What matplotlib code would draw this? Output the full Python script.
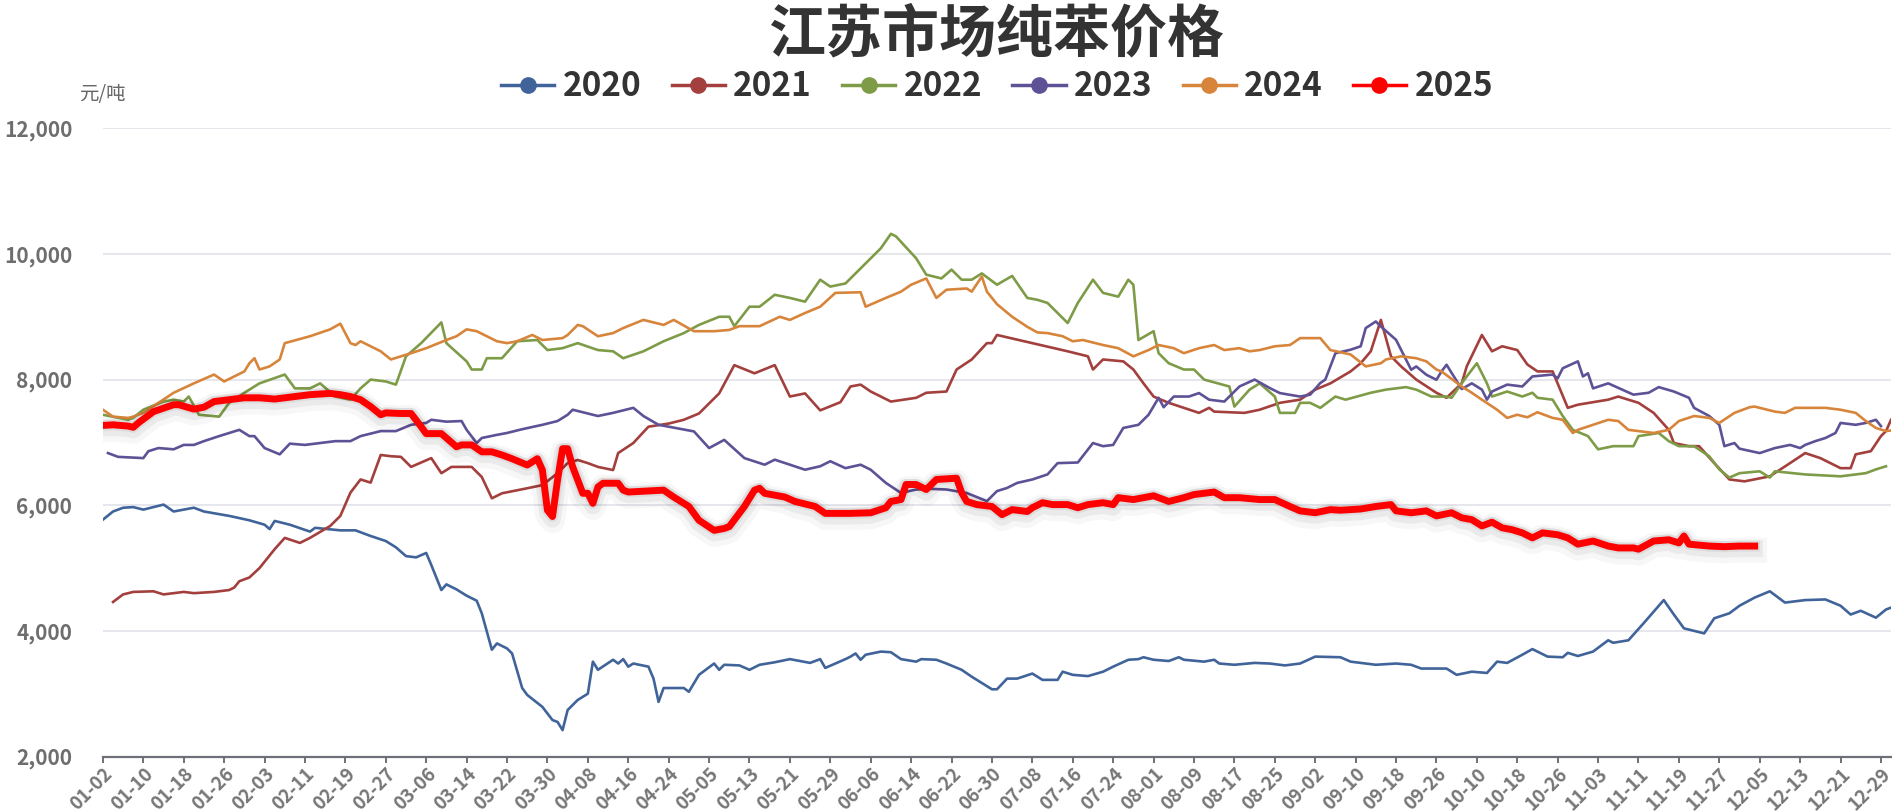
import matplotlib
matplotlib.use("Agg")
import matplotlib.pyplot as plt
from matplotlib.lines import Line2D
import matplotlib.patheffects as pe
from matplotlib.ticker import FuncFormatter
import pandas as pd

plt.rcParams['font.family'] = ['Noto Sans CJK SC', 'DejaVu Sans']

# ---------------- data ----------------
title = "江苏市场纯苯价格"
unit_label = "元/吨"
years = ["2020", "2021", "2022", "2023", "2024", "2025"]

# category axis: month-day labels (holiday dates absent from the axis)
holidays = ["04-04", "05-01", "05-02", "05-03",
            "10-01", "10-02", "10-03", "10-04", "10-05", "10-06"]
categories = [d.strftime("%m-%d") for d in pd.date_range("2024-01-02", "2024-12-31")
              if d.strftime("%m-%d") not in holidays]
tick_labels = categories[::8]

dates_2020 = ["01-02","01-04","01-06","01-08","01-10","01-12","01-14","01-16","01-20","01-22",
              "01-27","01-31","02-03","02-04","02-05","02-08","02-12","02-13","02-18","02-21",
              "02-24","02-27","02-29","03-02","03-04","03-06","03-07","03-09","03-10","03-12",
              "03-14","03-16","03-17","03-19","03-20","03-22","03-23","03-25","03-26","03-29",
              "03-31","04-01","04-02","04-03","04-06","04-08","04-09","04-10","04-13","04-14",
              "04-15","04-16","04-17","04-20","04-21","04-22","04-23","04-27","04-28","04-30",
              "05-06","05-07","05-08","05-11","05-13","05-15","05-18","05-21","05-25","05-27",
              "05-28","06-01","06-02","06-03","06-04","06-05","06-08","06-10","06-12","06-15",
              "06-16","06-19","06-21","06-24","06-26","06-30","07-01","07-03","07-05","07-08",
              "07-10","07-13","07-14","07-16","07-19","07-22","07-24","07-27","07-29","07-30",
              "08-01","08-04","08-06","08-07","08-11","08-13","08-14","08-17","08-21","08-24",
              "08-27","08-30","09-02","09-07","09-09","09-14","09-18","09-21","09-23","09-28",
              "09-30","10-09","10-12","10-14","10-16","10-19","10-21","10-24","10-27","10-28",
              "10-30","11-02","11-05","11-06","11-09","11-12","11-16","11-18","11-20","11-24",
              "11-26","11-29","12-01","12-04","12-07","12-10","12-14","12-18","12-21","12-23",
              "12-25","12-28","12-30","12-31"]
values_2020 = [5770,5900,5960,5970,5930,5970,6010,5900,5960,5900,
               5830,5760,5690,5620,5750,5690,5580,5640,5600,5600,
               5510,5430,5330,5190,5170,5240,5050,4650,4740,4660,
               4560,4480,4280,3700,3800,3720,3640,3090,2980,2790,
               2580,2550,2420,2740,2900,3000,3510,3380,3540,3480,
               3550,3430,3480,3430,3240,2870,3090,3090,3030,3300,
               3480,3380,3460,3450,3380,3460,3500,3550,3490,3550,
               3410,3550,3590,3640,3540,3620,3670,3660,3550,3510,
               3550,3540,3480,3380,3270,3070,3070,3240,3240,3320,
               3220,3220,3350,3300,3280,3350,3430,3540,3550,3580,
               3540,3520,3580,3540,3510,3540,3480,3460,3490,3480,
               3450,3480,3590,3580,3510,3460,3480,3460,3400,3400,
               3300,3350,3330,3510,3490,3620,3710,3590,3580,3650,
               3600,3670,3850,3810,3850,4120,4490,4260,4040,3960,
               4200,4280,4400,4530,4630,4450,4490,4500,4400,4260,
               4320,4210,4340,4370]

dates_2021 = ["01-04","01-06","01-08","01-12","01-14","01-18","01-20","01-24","01-27","01-28",
              "01-29","01-31","02-02","02-05","02-07","02-10","02-12","02-16","02-18","02-20",
              "02-22","02-24","02-26","02-28","03-01","03-03","03-07","03-09","03-11","03-15",
              "03-17","03-19","03-21","03-26","03-29","04-01","04-03","04-06","04-08","04-10",
              "04-13","04-14","04-17","04-20","04-24","04-27","04-30","05-07","05-10","05-14",
              "05-18","05-21","05-24","05-27","05-31","06-02","06-04","06-06","06-10","06-15",
              "06-17","06-21","06-23","06-26","06-29","06-30","07-01","07-08","07-15","07-19",
              "07-20","07-22","07-26","07-28","07-30","08-01","08-04","08-07","08-10","08-12",
              "08-13","08-19","08-22","08-26","08-30","09-02","09-05","09-09","09-11","09-13",
              "09-15","09-17","09-19","09-22","09-26","09-28","10-07","10-08","10-11","10-13",
              "10-15","10-18","10-20","10-22","10-25","10-28","10-30","11-05","11-07","11-11",
              "11-14","11-17","11-18","11-21","11-23","11-26","11-29","12-02","12-07","12-11",
              "12-14","12-17","12-21","12-23","12-24","12-27","12-29","12-30","12-31"]
values_2021 = [4460,4580,4620,4630,4580,4620,4600,4620,4650,4690,
               4790,4850,5000,5300,5480,5400,5480,5670,5830,6200,
               6410,6360,6800,6780,6770,6610,6750,6510,6610,6610,
               6450,6110,6190,6270,6320,6510,6670,6720,6670,6610,
               6560,6830,6990,7250,7300,7360,7460,7780,8230,8100,
               8230,7730,7780,7510,7640,7890,7920,7810,7650,7710,
               7790,7810,8160,8320,8580,8580,8710,8580,8450,8370,
               8160,8320,8290,8160,7940,7730,7630,7550,7470,7550,
               7490,7470,7520,7630,7680,7840,7940,8130,8260,8450,
               8950,8370,8210,8000,7790,7710,7940,8210,8710,8450,
               8530,8470,8240,8130,8130,7550,7600,7680,7730,7630,
               7470,7200,6990,6940,6940,6670,6410,6380,6460,6670,
               6830,6750,6590,6590,6810,6860,7100,7180,7360]

dates_2022 = ["01-02","01-07","01-08","01-10","01-14","01-16","01-18","01-19","01-21","01-25",
              "01-27","01-30","02-02","02-07","02-09","02-12","02-14","02-17","02-20","02-22",
              "02-24","02-27","02-29","03-02","03-05","03-09","03-10","03-14","03-15","03-17",
              "03-18","03-21","03-24","03-28","03-30","04-02","04-06","04-10","04-13","04-15",
              "04-19","04-23","04-27","04-30","05-07","05-09","05-10","05-13","05-15","05-18",
              "05-21","05-24","05-27","05-29","06-01","06-05","06-08","06-10","06-11","06-15",
              "06-17","06-20","06-22","06-24","06-26","06-28","07-01","07-04","07-07","07-09",
              "07-11","07-13","07-15","07-17","07-20","07-22","07-25","07-27","07-28","07-29",
              "08-01","08-02","08-04","08-07","08-09","08-11","08-16","08-17","08-20","08-22",
              "08-25","08-26","08-29","08-30","09-01","09-03","09-06","09-08","09-13","09-16",
              "09-20","09-22","09-25","09-28","09-29","10-07","10-08","10-10","10-12","10-13",
              "10-16","10-19","10-21","10-22","10-25","10-27","10-29","11-01","11-03","11-06",
              "11-10","11-11","11-15","11-17","11-19","11-22","11-25","11-27","11-29","12-01",
              "12-05","12-07","12-08","12-14","12-21","12-26","12-28","12-30"]
values_2022 = [7440,7360,7390,7520,7650,7680,7650,7730,7440,7410,
               7630,7790,7940,8080,7860,7860,7940,7730,7680,7860,
               8000,7970,7920,8370,8580,8910,8580,8290,8160,8160,
               8340,8340,8610,8630,8470,8500,8580,8470,8450,8340,
               8450,8610,8740,8870,9000,9000,8850,9160,9160,9350,
               9300,9240,9590,9480,9530,9850,10090,10320,10280,9930,
               9670,9610,9750,9590,9590,9690,9510,9650,9300,9270,
               9220,9060,8900,9220,9590,9380,9320,9590,9510,8630,
               8770,8420,8260,8160,8160,8000,7890,7570,7840,7940,
               7730,7470,7470,7630,7630,7550,7730,7680,7790,7840,
               7880,7840,7730,7730,7710,7940,8050,8260,7940,7730,
               7810,7730,7790,7710,7680,7420,7200,7100,6890,6940,
               6940,7100,7150,7020,6940,6940,6780,6570,6440,6510,
               6540,6440,6540,6490,6460,6510,6570,6620]

dates_2023 = ["01-03","01-05","01-10","01-11","01-13","01-16","01-18","01-20","01-22","01-25",
              "01-29","01-31","02-01","02-03","02-06","02-08","02-11","02-14","02-17","02-20",
              "02-22","02-26","02-29","03-03","03-06","03-07","03-10","03-13","03-14","03-16",
              "03-17","03-20","03-22","03-25","03-29","04-01","04-03","04-05","04-10","04-13",
              "04-17","04-19","04-22","04-29","05-05","05-08","05-12","05-16","05-18","05-24",
              "05-27","05-29","06-01","06-04","06-06","06-09","06-12","06-15","06-18","06-21",
              "06-25","06-29","07-01","07-03","07-05","07-08","07-11","07-13","07-17","07-20",
              "07-22","07-24","07-26","07-29","07-31","08-02","08-03","08-05","08-08","08-10",
              "08-12","08-15","08-16","08-18","08-21","08-24","08-26","08-30","09-01","09-03",
              "09-04","09-06","09-09","09-11","09-12","09-14","09-15","09-18","09-19","09-21",
              "09-22","09-24","09-26","09-27","09-28","10-07","10-09","10-11","10-12","10-13",
              "10-16","10-19","10-21","10-25","10-26","10-27","10-30","10-31","11-01","11-02",
              "11-05","11-10","11-13","11-15","11-18","11-21","11-22","11-25","11-27","11-28",
              "11-30","12-01","12-05","12-08","12-11","12-13","12-14","12-16","12-18","12-20",
              "12-21","12-24","12-26","12-28","12-29"]
values_2023 = [6830,6770,6750,6860,6910,6890,6960,6960,7020,7100,
               7200,7100,7100,6910,6810,6980,6960,6990,7020,7020,
               7100,7180,7180,7280,7310,7360,7330,7340,7200,6990,
               7070,7120,7150,7210,7280,7340,7440,7520,7420,7470,
               7550,7420,7280,7175,6910,7040,6750,6645,6725,6565,
               6620,6700,6590,6645,6565,6355,6195,6250,6260,6250,
               6195,6065,6225,6275,6355,6410,6490,6670,6680,6990,
               6940,6960,7230,7280,7440,7710,7560,7730,7730,7785,
               7680,7650,7730,7890,8000,7865,7785,7730,7760,7945,
               8000,8420,8475,8530,8820,8925,8845,8633,8474,8156,
               8209,8077,7997,8130,8236,7850,7940,7840,7680,7810,
               7920,7890,8050,8080,8020,8180,8290,8050,8100,7860,
               7940,7760,7790,7880,7810,7710,7550,7420,7280,6940,
               6990,6900,6830,6910,6960,6910,6960,7020,7070,7150,
               7310,7280,7310,7360,7260]

dates_2024 = ["01-02","01-04","01-07","01-08","01-10","01-16","01-20","01-24","01-26","01-28",
              "01-30","01-31","02-01","02-02","02-04","02-06","02-07","02-12","02-16","02-18",
              "02-20","02-21","02-22","02-24","02-26","02-28","03-01","03-03","03-06","03-10",
              "03-12","03-14","03-16","03-20","03-22","03-24","03-27","03-29","04-02","04-03",
              "04-06","04-07","04-10","04-13","04-15","04-19","04-23","04-25","04-29","05-06",
              "05-09","05-11","05-15","05-19","05-21","05-24","05-27","05-30","06-04","06-05",
              "06-09","06-12","06-14","06-17","06-19","06-21","06-25","06-26","06-28","06-29",
              "07-01","07-04","07-07","07-09","07-11","07-14","07-16","07-18","07-22","07-25",
              "07-28","07-31","08-02","08-05","08-07","08-10","08-13","08-15","08-18","08-20",
              "08-22","08-25","08-28","08-30","09-03","09-05","09-09","09-12","09-15","09-16",
              "09-19","09-22","09-24","09-26","09-27","09-29","10-07","10-09","10-11","10-14",
              "10-16","10-18","10-20","10-22","10-25","10-27","10-29","10-30","11-02","11-05",
              "11-07","11-09","11-11","11-14","11-17","11-19","11-22","11-25","11-27","11-30",
              "12-03","12-04","12-08","12-10","12-12","12-18","12-21","12-24","12-26","12-28",
              "12-30","12-31"]
values_2024 = [7520,7410,7390,7410,7470,7790,7940,8080,7970,8050,
               8130,8260,8340,8160,8210,8320,8580,8690,8800,8890,
               8580,8550,8610,8530,8450,8320,8370,8420,8500,8630,
               8690,8800,8770,8610,8580,8610,8710,8630,8660,8710,
               8870,8850,8690,8740,8820,8950,8870,8950,8770,8770,
               8790,8850,8850,9000,8950,9060,9160,9380,9390,9160,
               9300,9400,9510,9610,9300,9430,9450,9400,9640,9400,
               9200,9000,8840,8750,8740,8690,8610,8630,8550,8500,
               8370,8470,8550,8500,8420,8500,8550,8470,8500,8450,
               8470,8530,8550,8660,8660,8470,8400,8210,8260,8320,
               8370,8340,8290,8160,8130,8010,7890,7790,7680,7520,
               7390,7440,7400,7480,7390,7360,7150,7200,7280,7360,
               7340,7200,7180,7150,7200,7340,7420,7390,7310,7470,
               7560,7570,7490,7470,7550,7550,7520,7470,7340,7230,
               7180,7190]

dates_2025 = ["01-02","01-04","01-07","01-08","01-09","01-12","01-16","01-17","01-20","01-22",
              "01-24","01-27","01-30","02-02","02-05","02-09","02-12","02-16","02-18","02-20",
              "02-22","02-24","02-26","02-27","03-01","03-03","03-05","03-06","03-09","03-12",
              "03-13","03-15","03-17","03-19","03-21","03-23","03-26","03-28","03-29","03-30",
              "03-31","04-01","04-02","04-03","04-05","04-07","04-08","04-09","04-10","04-11",
              "04-14","04-15","04-16","04-23","04-25","04-28","04-30","05-06","05-08","05-09",
              "05-12","05-14","05-15","05-16","05-20","05-22","05-26","05-28","06-02","06-06",
              "06-09","06-10","06-12","06-13","06-15","06-17","06-19","06-23","06-24","06-25",
              "06-27","06-30","07-02","07-04","07-07","07-08","07-10","07-12","07-15","07-17",
              "07-19","07-22","07-24","07-25","07-28","07-30","08-01","08-04","08-07","08-09",
              "08-13","08-15","08-18","08-22","08-25","08-28","08-30","09-02","09-05","09-07",
              "09-11","09-14","09-17","09-18","09-21","09-24","09-26","09-29","10-07","10-09",
              "10-11","10-13","10-15","10-17","10-19","10-21","10-23","10-26","10-28","10-30",
              "11-02","11-05","11-07","11-10","11-11","11-14","11-17","11-19","11-20","11-21",
              "11-25","11-28","12-01","12-04"]
values_2025 = [7270,7280,7260,7240,7310,7490,7600,7600,7530,7560,
               7650,7680,7710,7710,7690,7730,7760,7780,7760,7730,
               7680,7570,7440,7470,7460,7460,7250,7140,7140,6930,
               6960,6960,6850,6850,6800,6740,6640,6740,6560,5920,
               5820,6400,6900,6900,6610,6190,6190,6030,6290,6350,
               6350,6240,6210,6240,6130,5980,5760,5600,5630,5660,
               5980,6240,6270,6190,6130,6060,5980,5870,5870,5880,
               5960,6060,6090,6330,6330,6250,6410,6430,6200,6060,
               6010,5980,5850,5930,5900,5960,6040,6010,6010,5960,
               6010,6040,6010,6120,6090,6120,6150,6060,6120,6170,
               6210,6120,6120,6090,6090,5980,5910,5880,5930,5920,
               5940,5980,6010,5910,5880,5910,5830,5880,5800,5770,
               5670,5730,5640,5610,5560,5480,5560,5530,5480,5380,
               5430,5350,5320,5320,5300,5430,5450,5400,5510,5380,
               5350,5340,5350,5350]

series_dates = [dates_2020, dates_2021, dates_2022, dates_2023, dates_2024, dates_2025]
series_values = [values_2020, values_2021, values_2022, values_2023, values_2024, values_2025]
colors = ["#40649a", "#a3403d", "#7e9c47", "#5f5196", "#d8853c", "#ff0000"]

# ---------------- plot ----------------
fig = plt.figure(figsize=(18.92, 8.11), dpi=100)
ax = fig.add_axes([0.0544, 0.0672, 0.9451, 0.7746])

pos = {c: i for i, c in enumerate(categories)}
for yr, ds, vs, col in zip(years, series_dates, series_values, colors):
    xs = [pos[d] for d in ds]
    if yr == "2025":
        ax.plot(xs, vs, color=col, lw=5.0, zorder=10, solid_joinstyle='round',
                path_effects=[pe.Stroke(linewidth=18, foreground='#000000', alpha=0.03,
                                        offset=(0, -3)),
                              pe.Stroke(linewidth=12, foreground='#000000', alpha=0.05,
                                        offset=(0, -2)),
                              pe.Stroke(linewidth=8, foreground='#000000', alpha=0.06),
                              pe.Normal()])
    else:
        ax.plot(xs, vs, color=col, lw=1.9, zorder=5, solid_joinstyle='round')

ax.set_xlim(0, len(categories) - 1)
ax.set_ylim(2000, 12000)
ax.set_yticks(range(2000, 12001, 2000))
ax.yaxis.set_major_formatter(FuncFormatter(lambda v, p: f"{int(v):,}"))
ax.set_xticks(range(0, len(categories), 8))
ax.set_xticklabels(tick_labels, rotation=45, ha='right', va='top', rotation_mode='anchor',
                   fontsize=13.5, fontweight='bold', color='#767676')
for lab in ax.get_yticklabels():
    lab.set_fontsize(15)
    lab.set_fontweight('bold')
    lab.set_color('#6e6e6e')

ax.grid(axis='y', color='#e0e3ea', lw=1.2)
ax.set_axisbelow(True)
for s in ['top', 'right', 'left']:
    ax.spines[s].set_visible(False)
ax.spines['bottom'].set_color('#6e7079')
ax.spines['bottom'].set_linewidth(1.6)
ax.tick_params(axis='y', length=0, pad=22)
ax.tick_params(axis='x', length=4, width=1.4, color='#6e7079', pad=1.5)

fig.text(0.527, 0.957, title, ha='center', va='center', fontsize=41,
         fontweight='bold', color='#333333')
fig.text(0.054, 0.884, unit_label, ha='center', va='center', fontsize=14, color='#666666')

handles = [Line2D([], [], color=c, lw=2.5, marker='o', markersize=11) for c in colors]
leg = fig.legend(handles, years, loc='center', bbox_to_anchor=(0.527, 0.893), ncol=6,
                 frameon=False, handlelength=1.6, handletextpad=0.25, columnspacing=0.9,
                 prop={'size': 24, 'weight': 'bold'})
for t in leg.get_texts():
    t.set_color('#333333')

fig.savefig("out.png", dpi=100)
